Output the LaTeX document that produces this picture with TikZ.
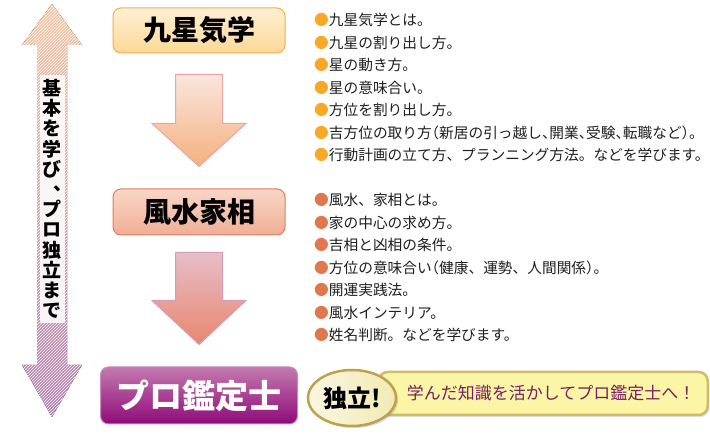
\documentclass[tikz,border=0pt]{standalone}
\usepackage{fontspec}
\usepackage{xcolor}
\usepackage{tikz}
\usetikzlibrary{positioning,calc,patterns,shapes.geometric,shadows}
\newfontfamily\jp{Noto Sans CJK JP}
\newfontfamily\jph[RawFeature=+halt]{Noto Sans CJK JP}

\definecolor{peach}{HTML}{F6C49E}
\definecolor{lilac}{HTML}{B07DB0}
\definecolor{kyuseiTop}{HTML}{FEF0D4}
\definecolor{kyuseiMid}{HTML}{F8C262}
\definecolor{kyuseiBot}{HTML}{FCD896}
\definecolor{kyuseiRim}{HTML}{F4AE48}
\definecolor{fusuiTop}{HTML}{FAD6C6}
\definecolor{fusuiMid}{HTML}{E9977A}
\definecolor{fusuiBot}{HTML}{F0AE96}
\definecolor{fusuiRim}{HTML}{E07C5C}
\definecolor{kanteiTop}{HTML}{C47AB0}
\definecolor{kanteiMid}{HTML}{A0388C}
\definecolor{kanteiBot}{HTML}{8E0A78}
\definecolor{kanteiRim}{HTML}{C58DBD}
\definecolor{flowATop}{HTML}{F9E6DE}
\definecolor{flowABot}{HTML}{F4B07E}
\definecolor{flowARim}{HTML}{E9A4A4}
\definecolor{flowBTop}{HTML}{E7BDC9}
\definecolor{flowBBot}{HTML}{E8876E}
\definecolor{flowBRim}{HTML}{D49CB6}
\definecolor{dotOrange}{HTML}{F9A825}
\definecolor{dotCoral}{HTML}{E0784E}
\definecolor{ink}{HTML}{1E1E1E}
\definecolor{bannerFill}{HTML}{FAF6A6}
\definecolor{bannerRim}{HTML}{D2BA6A}
\definecolor{badgeFill}{HTML}{F2EAB4}
\definecolor{badgeRim}{HTML}{BFA04C}
\definecolor{plum}{HTML}{7A1E64}

\newcommand{\dotA}{{\color{dotOrange}●}}
\newcommand{\dotB}{{\color{dotCoral}●}}
% vertical comma: right side of its cell
\newcommand{\vcomma}{\makebox[1em][l]{\hspace{0.6em}\raisebox{0.3em}[0pt][0pt]{、}}}

\begin{document}
\begin{tikzpicture}[x=1pt, y=-1pt,
  stage/.style={draw, rounded corners=8pt, line width=1pt, inner sep=0pt,
    minimum width=172pt, minimum height=45pt,
    font=\jp\bfseries\fontsize{28}{28}\selectfont},
  stageA/.style={stage, top color=kyuseiTop, middle color=kyuseiMid, bottom color=kyuseiBot, draw=kyuseiRim},
  stageB/.style={stage, top color=fusuiTop, middle color=fusuiMid, bottom color=fusuiBot, draw=fusuiRim, minimum height=46pt},
  stageC/.style={stage, top color=kanteiTop, middle color=kanteiMid, bottom color=kanteiBot, draw=kanteiRim,
    minimum width=197pt, minimum height=57pt, text=white, font=\jp\bfseries\fontsize{33}{33}\selectfont},
  flowA/.style={draw=flowARim, line width=1pt, top color=flowATop, bottom color=flowABot},
  flowB/.style={draw=flowBRim, line width=1pt, top color=flowBTop, bottom color=flowBBot},
  list/.style={align=left, inner sep=0pt, text=ink, font=\jp\fontsize{14.7}{22.5}\selectfont},
]
\useasboundingbox (0,0) rectangle (710,443);

% long arrow on the left
\fill[top color=peach, middle color=white, bottom color=lilac,
  postaction={pattern=north east lines, pattern color=white}]
  (52,4) -- (82,45) -- (67,45) -- (67,365) -- (82,365) -- (52,417)
  -- (22,365) -- (37,365) -- (37,45) -- (22,45) -- cycle;
\node[fill=white, fill opacity=0.85, text opacity=1, inner xsep=3pt, inner ysep=4pt, align=center,
  font=\jp\bfseries\fontsize{19}{20.2}\selectfont] (motto) at (52,199)
  {基\\本\\を\\学\\び\\\vcomma\\プ\\ロ\\独\\立\\ま\\で};

% stages
\node[stageA] (kyusei) at (199,30.5) {九星気学};
\node[stageB, below=135pt of kyusei] (fusui) {風水家相};
\node[stageC, below=131pt of fusui] (kantei) {プロ鑑定士};

% block arrows between stages
\coordinate (flow1) at ($(kyusei.south)+(0,21)$);
\coordinate (flow2) at ($(fusui.south)+(0,17)$);
\draw[flowA] (flow1) ++(-23.5,0) -- ++(47,0) -- ++(0,49) -- ++(23.5,0)
  -- ($(fusui.north)+(0,-22)$) -- ++(-47,-43) -- ++(23.5,0) -- cycle;
\draw[flowB] (flow2) ++(-23.5,0) -- ++(47,0) -- ++(0,48) -- ++(23.5,0)
  -- ($(kantei.north)+(0,-22)$) -- ++(-47,-44) -- ++(23.5,0) -- cycle;

% contents
\node[list, anchor=west] (kyuseiList) at (314,87.5) {%
  \dotA 九星気学とは。\\
  \dotA 九星の割り出し方。\\
  \dotA 星の動き方。\\
  \dotA 星の意味合い。\\
  \dotA 方位を割り出し方。\\
  \dotA {\jph 吉方位の取り方（新居の引っ越し、開業、受験、転職など）。}\\
  \dotA 行動計画の立て方、プランニング方法。などを学びます。};
\node[list, anchor=west] (fusuiList) at (314,267.5) {%
  \dotB 風水、家相とは。\\
  \dotB 家の中心の求め方。\\
  \dotB 吉相と凶相の条件。\\
  \dotB 方位の意味合い{\jph （}健康、運勢、人間関係{\jph ）}。\\
  \dotB 開運実践法。\\
  \dotB 風水インテリア。\\
  \dotB 姓名判断。などを学びます。};

% goal
\node[draw=bannerRim, line width=2.5pt, fill=bannerFill, rounded corners=9pt,
  minimum height=43pt, text width=304pt, inner xsep=12.5pt, align=right,
  text=plum, font=\jp\fontsize{17}{17}\selectfont,
  drop shadow={opacity=0.25, shadow xshift=1.5pt, shadow yshift=-2pt},
  anchor=east] (message) at (709,393.5) {学んだ知識を活かしてプロ鑑定士へ！};
\node[ellipse, draw=badgeRim, line width=2.5pt, left color=white!60!badgeFill, right color=badgeFill,
  minimum width=88pt, minimum height=56pt, inner sep=0pt,
  font=\jp\bfseries\fontsize{24}{24}\selectfont,
  drop shadow={opacity=0.3, shadow xshift=2pt, shadow yshift=-2pt}] (dokuritsu) at (352,398) {独立!};
\end{tikzpicture}
\end{document}
